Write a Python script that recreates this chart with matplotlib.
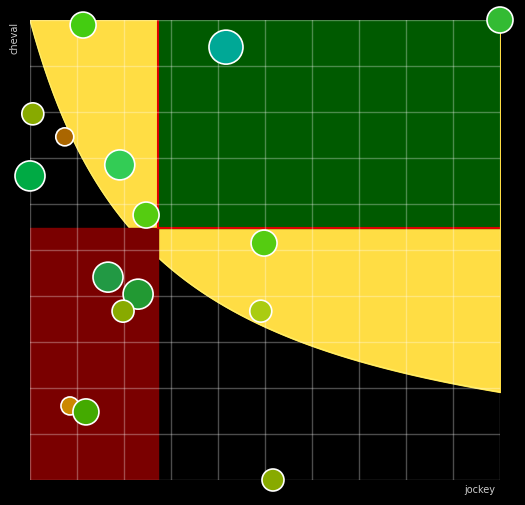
import numpy as np
import matplotlib
matplotlib.use('Agg')
import matplotlib.pyplot as plt
from matplotlib.patches import Rectangle

jockey = [1.13, 4.17, 10.0, 0.06, 0.74, 1.91, 0.0, 2.47, 4.98, 1.66, 2.30, 1.98, 4.91, 0.85, 1.19, 5.17]
cheval = [9.89, 9.41, 10.0, 7.96, 7.46, 6.85, 6.61, 5.76, 5.15, 4.41, 4.04, 3.67, 3.67, 1.61, 1.48, 0.0]
radius = [13, 17, 13, 11, 9, 15, 15, 13, 13, 15, 15, 11, 11, 9, 13, 11]
colors = ['#44cc11', '#00a896', '#33bb33', '#88aa00', '#aa6600', '#33cc55', '#00aa44', '#55cc11',
          '#55cc11', '#229944', '#229933', '#88aa00', '#aacc11', '#cc8800', '#44aa00', '#88aa00']

x_split = 2.72
y_split = 5.48

fig = plt.figure(figsize=(5.25, 5.05), dpi=100, facecolor='black')
ax = fig.add_axes([30/525, 25/505, 470/525, 460/505])
ax.set_facecolor('black')
ax.set_xlim(0, 10)
ax.set_ylim(0, 10)

# yellow area above the hyperbola-like curve
xc = np.linspace(0, 10, 300)
yc = 27.73 / (xc + 2.7) - 0.27
ax.fill_between(xc, yc, 10, color='#ffdd44', zorder=1)
ax.plot(xc, yc, color='#ffee66', lw=1, zorder=1)

ax.add_patch(Rectangle((x_split, y_split), 10 - x_split, 10 - y_split, color='#005a00', zorder=2))
ax.add_patch(Rectangle((0, 0), x_split, y_split, color='#7a0000', zorder=2))
ax.plot([x_split, x_split], [y_split, 10], color='#dd0000', lw=1.5, zorder=3)
ax.plot([x_split, 10], [y_split, y_split], color='#dd0000', lw=1.5, zorder=3)

for v in range(11):
    ax.axvline(v, color='white', alpha=0.3, lw=1, zorder=4)
    ax.axhline(v, color='white', alpha=0.3, lw=1, zorder=4)

sizes = [(2 * r * 0.72) ** 2 for r in radius]
ax.scatter(jockey, cheval, s=sizes, c=colors, edgecolors='white', linewidths=1.2, zorder=5, clip_on=False)

for s in ax.spines.values():
    s.set_visible(False)
ax.set_xticks([])
ax.set_yticks([])

fig.text(15/525, 1 - 38/505, 'cheval', color='#cccccc', fontsize=7, rotation=90, ha='center', va='center')
fig.text(495/525, 1 - 490/505, 'jockey', color='#cccccc', fontsize=7, ha='right', va='center')

fig.savefig('out.png', dpi=100, facecolor='black')
